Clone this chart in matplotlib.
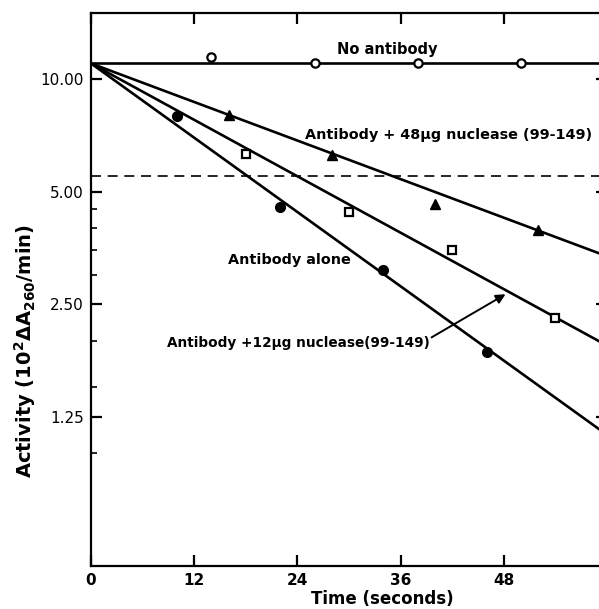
import matplotlib
matplotlib.use("Agg")
import matplotlib.pyplot as plt
from matplotlib.ticker import FixedLocator, FixedFormatter, NullFormatter

plt.rcParams['font.family'] = ['DejaVu Sans']
plt.rcParams['mathtext.default'] = 'bf'

# ---- data ----
t_no_ab = [14, 26, 38, 50]
act_no_ab = [11.45, 11.0, 11.0, 11.0]

t_alone = [10, 22, 34, 46]
act_alone = [7.97, 4.54, 3.08, 1.86]

t_48 = [16, 28, 40, 52]
act_48 = [8.02, 6.27, 4.64, 3.94]

t_12 = [18, 30, 42, 54]
act_12 = [6.31, 4.40, 3.50, 2.30]

# fitted straight lines (start, end) on the log scale
t_fit = [0, 60]
fit_no_ab = [11.0, 11.0]
fit_alone = [11.0, 1.12]
fit_12 = [11.0, 1.94]
fit_48 = [11.0, 3.36]
half_level = 5.5

x_ticks = [0, 12, 24, 36, 48]
x_ticklabels = ['0', '12', '24', '36', '48']
y_major = [1.25, 2.5, 5.0, 10.0]
y_major_labels = ['1.25', '2.50', '5.00', '10.00']
y_minor = [1.0, 1.5, 2.0, 3.0, 3.5, 4.0, 4.5]

# ---- figure ----
W, H = 599, 609
fig = plt.figure(figsize=(W / 100, H / 100), dpi=100)
left, right, top, bottom = 91, 607, 13, 566
ax = fig.add_axes([left / W, (H - bottom) / H, (right - left) / W, (bottom - top) / H])
ax.set_yscale('log', base=2)
ax.set_xlim(0, 60)
ax.set_ylim(0.5, 15)

lw = 1.9
ax.plot(t_fit, fit_no_ab, color='black', lw=lw)
ax.plot(t_fit, fit_alone, color='black', lw=lw)
ax.plot(t_fit, fit_12, color='black', lw=lw)
ax.plot(t_fit, fit_48, color='black', lw=lw)
ax.axhline(half_level, color='black', lw=1.2, dashes=(6, 4))

ax.plot(t_no_ab, act_no_ab, 'o', ms=6, mfc='white', mec='black', mew=1.6, ls='none')
ax.plot(t_alone, act_alone, 'o', ms=7, mfc='black', mec='black', ls='none')
ax.plot(t_48, act_48, '^', ms=7.5, mfc='black', mec='black', ls='none')
ax.plot(t_12, act_12, 's', ms=6, mfc='white', mec='black', mew=1.6, ls='none')

# annotations
ax.text(34.4, 11.95, 'No antibody', ha='center', va='center', fontsize=10.5, fontweight='bold')
ax.text(24.9, 7.09, 'Antibody + 48μg nuclease (99-149)', ha='left', va='center',
        fontsize=10.4, fontweight='bold')
ax.text(15.9, 3.29, 'Antibody alone', ha='left', va='center', fontsize=10.4, fontweight='bold')
ax.text(39.4, 1.97, 'Antibody +12μg nuclease(99-149)', ha='right', va='center',
        fontsize=9.8, fontweight='bold')
ax.annotate('', xy=(48.2, 2.66), xytext=(39.6, 2.04),
            arrowprops=dict(arrowstyle='-|>', color='black', lw=1.4,
                            mutation_scale=14, shrinkA=0, shrinkB=0))

# axes styling
for s in ax.spines.values():
    s.set_linewidth(1.6)

ax.xaxis.set_major_locator(FixedLocator(x_ticks))
ax.xaxis.set_major_formatter(FixedFormatter(x_ticklabels))
ax.yaxis.set_major_locator(FixedLocator(y_major))
ax.yaxis.set_major_formatter(FixedFormatter(y_major_labels))
ax.yaxis.set_minor_locator(FixedLocator(y_minor))
ax.yaxis.set_minor_formatter(NullFormatter())
ax.xaxis.set_minor_locator(FixedLocator([]))

ax.tick_params(axis='both', which='major', direction='in', length=8, width=1.6,
               top=True, right=True)
ax.tick_params(axis='y', which='minor', direction='in', length=4, width=1.2,
               left=True, right=True)
ax.tick_params(axis='x', which='major', labelsize=11, pad=5)
ax.tick_params(axis='y', which='major', labelsize=11, pad=5)
for lab in ax.get_xticklabels():
    lab.set_fontweight('bold')

ax.set_xlabel('Time (seconds)', fontsize=12, fontweight='bold')
ax.xaxis.set_label_coords((382 - left) / (right - left), -(599 - bottom) / (bottom - top))
ax.xaxis.label.set_va('center')
ax.set_ylabel('Activity (10$^{2}$ΔA$_{260}$/min)', fontsize=14, fontweight='bold')
ax.yaxis.set_label_coords(-(left - 25) / (right - left), (bottom - 351) / (bottom - top))
ax.yaxis.label.set_va('center')

fig.savefig('out.png', dpi=100)
